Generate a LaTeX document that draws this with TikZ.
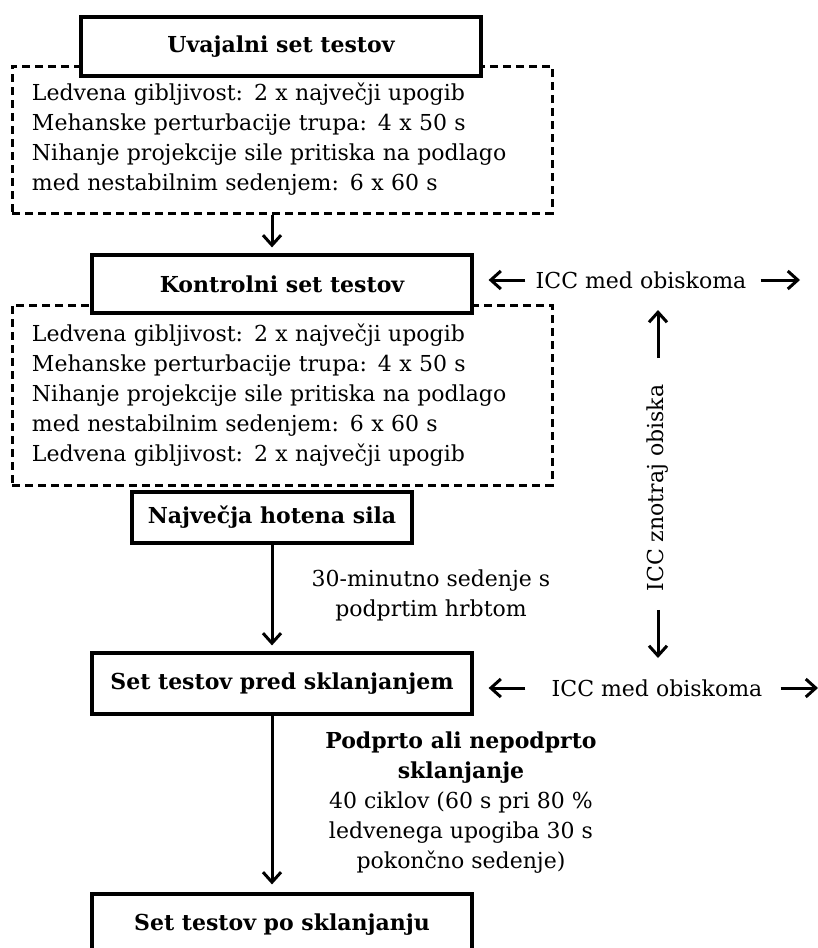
\documentclass[tikz,border=0pt]{standalone}
\usepackage{fontspec}
\setmainfont{DejaVu Serif}
\usepackage{tikz}
\usetikzlibrary{arrows.meta}
\tikzset{
  titlebox/.style={rectangle, draw=black, line width=1.6pt, fill=white, inner sep=0pt, text centered, font=\fontsize{11}{15}\selectfont\bfseries},
  notebox/.style={rectangle, draw=black, line width=1.5pt, dash pattern=on 4pt off 2.5pt, minimum width=270pt, text width=250pt, inner xsep=10pt, inner ysep=0pt, align=left, font=\fontsize{11}{15}\selectfont},
  notetext/.style={inner sep=0pt, align=center, font=\fontsize{11}{15}\selectfont},
  flowarrow/.style={-{Straight Barb[length=5pt, width=9pt, line width=1.5pt]}, line width=1.5pt}
}

\begin{document}
\begin{tikzpicture}[x=0.5pt, y=-0.5pt]
    \useasboundingbox (0,0) rectangle (818,948);

    % Dashed test lists (drawn first, title boxes sit on top)
    \node[notebox, minimum height=73.5pt] (list1) at (282, 139.5) {
        Ledvena gibljivost: 2 x največji upogib\\
        Mehanske perturbacije trupa: 4 x 50 s\\
        Nihanje projekcije sile pritiska na podlago\\
        med nestabilnim sedenjem: 6 x 60 s};
    \node[notebox, minimum height=90pt] (list2) at (282, 395) {
        Ledvena gibljivost: 2 x največji upogib\\
        Mehanske perturbacije trupa: 4 x 50 s\\
        Nihanje projekcije sile pritiska na podlago\\
        med nestabilnim sedenjem: 6 x 60 s\\
        Ledvena gibljivost: 2 x največji upogib};

    % Title boxes
    \node[titlebox, minimum width=200pt, minimum height=29.5pt] (uvod) at (281, 46.5) {Uvajalni set testov};
    \node[titlebox, minimum width=190pt, minimum height=29pt] (kontrola) at (282, 284) {Kontrolni set testov};
    \node[titlebox, minimum width=140pt, minimum height=25.5pt] (sila) at (272, 517.5) {Največja hotena sila};
    \node[titlebox, minimum width=190pt, minimum height=30.5pt] (pred) at (282, 683.5) {Set testov pred sklanjanjem};
    \node[titlebox, minimum width=190pt, minimum height=30.5pt] (po) at (282, 924.5) {Set testov po sklanjanju};

    % Labels along the main flow
    \node[notetext] (sedenje) at (431, 595) {30-minutno sedenje s\\podprtim hrbtom};
    \node[notetext] (sklon) at (461, 802.5) {\textbf{Podprto ali nepodprto}\\\textbf{sklanjanje}\\40 ciklov (60 s pri 80 \%\\ledvenega upogiba 30 s\\pokončno sedenje)};

    % Main flow arrows
    \draw[flowarrow, shorten >=3pt] (list1.south -| sila.south) -- (kontrola.north -| sila.south);
    \draw[flowarrow, shorten >=3pt] (sila.south) -- (sila.south |- pred.north);
    \draw[flowarrow, shorten >=4pt] (pred.south -| sila.south) -- (sila.south |- po.north);

    % ICC labels on the right
    \node[notetext] (icc1) at (641, 280) {ICC med obiskoma};
    \node[notetext] (icc2) at (657, 688) {ICC med obiskoma};
    \node[notetext, rotate=90] (iccin) at (658, 488) {ICC znotraj obiska};
    \coordinate (icc1r) at (800, 280);
    \coordinate (icc2r) at (818, 688);
    \coordinate (iccup) at (658, 310);
    \coordinate (iccdn) at (658, 658);

    \draw[flowarrow, shorten <=5pt, shorten >=7.5pt] (icc1.west) -- (icc1.west -| kontrola.east);
    \draw[flowarrow, shorten <=7pt] (icc1.east) -- (icc1r);
    \draw[flowarrow, shorten <=13pt, shorten >=7.5pt] (icc2.west) -- (icc2.west -| pred.east);
    \draw[flowarrow, shorten <=9pt] (icc2.east) -- (icc2r);
    \draw[flowarrow, shorten <=13pt] (iccin.east) -- (iccup);
    \draw[flowarrow, shorten <=9pt] (iccin.west) -- (iccdn);
\end{tikzpicture}
\end{document}
